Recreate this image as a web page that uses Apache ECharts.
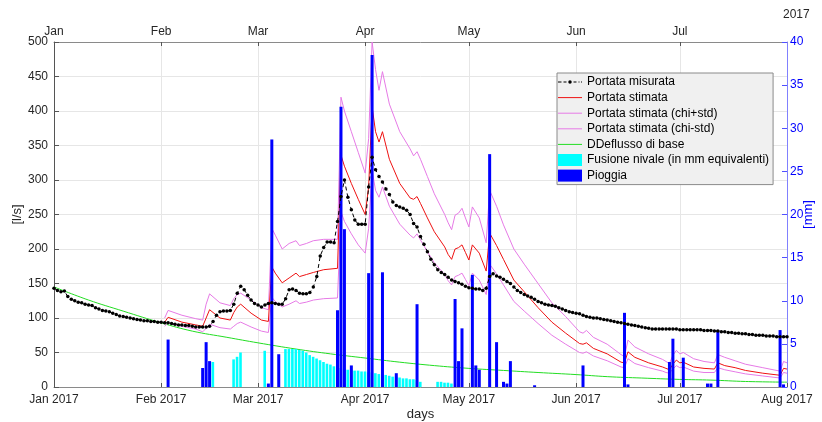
<!DOCTYPE html>
<html><head><meta charset="utf-8">
<script src="https://cdn.jsdelivr.net/npm/echarts@6/dist/echarts.min.js"></script>
<style>html,body{margin:0;padding:0;background:#fff;overflow:hidden}#c{width:822px;height:422px}</style>
</head><body><div id="c"></div>
<script>
// day index 0 = 1 Jan 2017
const monthTicks = [0, 31, 59, 90, 120, 151, 181, 212];
const bottomLabels = ['Jan 2017','Feb 2017','Mar 2017','Apr 2017','May 2017','Jun 2017','Jul 2017','Aug 2017'];
const topTicks = [0, 31, 59, 90, 120, 151, 181];
const topLabels = ['Jan','Feb','Mar','Apr','May','Jun','Jul'];

// Portata misurata, daily from day 0
const measured = [
143,140,138,139,131,127,125,123,122,120,
119,118,115,113,111,110,109,107,105,103,
102,101,100,99,98,97,96,96,95,95,
94,94,93,93,92,91,90,90,89,89,
88,87,87,87,87,88,95,104,109,110,
110,111,120,136,146,141,133,126,121,119,
116,119,121,122,121,120,120,128,141,142,
140,136,135,135,137,145,160,190,202,210,
210,209,240,276,300,275,257,242,236,236,
236,290,333,315,305,297,287,279,268,263,
261,259,256,250,237,232,218,207,196,185,
177,170,166,163,159,155,153,151,149,146,
144,143,142,142,140,143,160,164,161,159,
156,153,150,145,140,137,134,132,130,127,
124,122,120,119,118,117,115,113,111,109,
108,107,106,104,102,101,100,100,99,98,
97,96,95,94,93,92,91,90,89,88,
87,86,85,84,84,84,84,84,84,84,
84,83,83,83,83,83,83,83,82,82,
82,81,81,80,80,79,79,78,78,77,
77,76,76,75,75,75,74,74,74,73,
73,73,73];

// model output knots (day index)
const modelDays = [32,33,37,41,43,44,45,48,51,52,53,54,57,60,62,63,64,66,68,70,71,73,75,78,82,83,84,86,88,90,91,92,93,94,95,97,100,103,104,105,106,108,110,113,114,115,116,117,118,119,120,121,123,125,126,128,130,133,136,140,144,148,152,153,154,156,160,164,165,166,168,172,176,177,178,179,180,181,182,185,188,191,192,194,197,200,205,210,211,212];
const stimata = [94,101,94,90,88,100,112,100,97,108,116,120,107,97,95,174,165,151,158,165,160,163,166,170,172,336,320,295,272,250,290,406,370,355,370,330,295,274,272,276,266,245,225,203,192,185,200,202,206,195,184,206,194,168,223,205,185,155,138,115,94,78,63,62,64,56,48,36,35,51,43,35,29,27,25,33,39,35,36,29,27,26,35,31,28,24,20,17,27,26];
const stimataPlus = [100,111,104,99,97,120,135,122,118,128,134,136,126,115,112,230,220,200,208,212,205,208,212,214,214,420,400,370,340,310,360,500,460,430,457,410,370,345,335,341,330,305,280,250,238,228,249,252,259,245,232,261,245,209,285,262,235,200,178,150,122,102,80,78,82,72,62,47,44,68,58,48,40,37,34,46,53,48,50,41,37,35,47,43,38,33,28,23,37,35];
const stimataMinus = [88,93,88,84,80,85,91,86,84,88,92,94,87,81,79,130,124,116,120,125,121,123,126,128,129,254,240,222,206,194,230,314,285,275,290,262,236,220,216,222,213,196,180,163,154,148,160,162,165,156,147,165,155,134,178,164,148,124,110,92,75,62,50,49,51,45,38,29,28,41,34,28,23,21,20,26,31,28,29,23,21,21,28,25,22,19,16,13,21,20];

// Deflusso di base
const baseDays = [0,10,20,31,40,50,59,70,80,90,100,110,120,130,140,151,160,170,181,190,200,212];
const baseVals = [145,126,110,93,81,72,64,55,48,42,36,31,27,24,21,18,15,13,11,10,8,7];

// Fusione nivale (mm)
const snowDays = [46,52,53,54,61,67,68,69,70,71,72,73,74,75,76,77,78,79,80,81,82,83,84,85,86,87,88,89,90,91,92,93,94,95,96,97,98,99,100,101,102,103,104,105,106,111,112,113,114,115];
const snowMm = [2.9,3.2,3.5,4.0,4.2,4.4,4.4,4.4,4.4,4.3,4.2,4.0,3.7,3.5,3.3,3.1,2.9,2.7,2.6,2.4,2.3,2.2,2.1,2.0,2.0,1.9,1.9,1.8,1.8,1.7,1.7,1.6,1.5,1.5,1.4,1.3,1.2,1.2,1.1,1.0,1.0,0.9,0.9,0.8,0.6,0.6,0.6,0.5,0.5,0.4];

// Pioggia (mm)
const rainDays = [33,43,44,45,62,63,65,82,83,84,86,91,92,95,99,105,116,117,118,121,122,123,126,128,130,131,132,139,153,165,166,178,179,182,189,190,192,210,211];
const rainMm = [5.5,2.2,5.2,3.0,0.4,28.7,3.8,8.9,32.5,18.3,2.5,13.2,38.5,13.3,1.6,9.6,10.2,3.0,6.8,13.0,2.5,2.0,27.0,5.2,0.6,0.4,3.0,0.2,2.5,8.6,0.3,2.9,5.6,3.4,0.4,0.4,6.6,6.6,0.3];

const zip = (a, b) => a.map((v, i) => [v, b[i]]);
const FONT = 'Liberation Sans';
const chart = echarts.init(document.getElementById('c'), null, {renderer: 'canvas', width: 822, height: 422});
const axisGrey = '#8a8a8a';
const blue = '#0000ff';
const lineIcon = 'path://M0,0h24v1h-24z';
const dotLineIcon = 'path://M0,1.25h3.5v1h-3.5z M5.5,1.25h3v1h-3z M10.25,1.75a1.75,1.75 0 1,0 3.5,0a1.75,1.75 0 1,0 -3.5,0z M15.5,1.25h3v1h-3z M20.5,1.25h1v1h-1z M23,1.25h1v1h-1z';

chart.setOption({
  animation: false,
  textStyle: {fontFamily: FONT},
  grid: {left: 54, right: 35, top: 42, bottom: 35, containLabel: false, outerBoundsMode: 'none'},
  graphic: [
    {type: 'text', left: 783, top: 9, style: {text: '2017', fontFamily: FONT, fontSize: 12, fill: '#262626'}}
  ],
  legend: {
    orient: 'vertical', left: 557, top: 73,
    backgroundColor: '#f0f0f0', borderColor: '#8a8a8a', borderWidth: 1, borderRadius: 0,
    padding: [3, 4, 3, 1], itemWidth: 24, itemHeight: 12, itemGap: 3.6,
    textStyle: {fontFamily: FONT, fontSize: 12, color: '#000', lineHeight: 12},
    data: [
      {name: 'Portata misurata', icon: dotLineIcon},
      {name: 'Portata stimata', icon: lineIcon},
      {name: 'Portata stimata (chi+std)', icon: lineIcon},
      {name: 'Portata stimata (chi-std)', icon: lineIcon},
      {name: 'DDeflusso di base', icon: lineIcon},
      {name: 'Fusione nivale (in mm equivalenti)', icon: 'rect'},
      {name: 'Pioggia', icon: 'rect'}
    ]
  },
  xAxis: [
    {type: 'value', min: 0, max: 212, position: 'bottom',
     name: 'days', nameLocation: 'middle', nameGap: 21, nameMoveOverlap: false,
     nameTextStyle: {fontFamily: FONT, fontSize: 13, color: '#262626'},
     axisLine: {show: true, onZero: false, lineStyle: {color: axisGrey, width: 1}},
     axisTick: {show: true, inside: true, length: 4, customValues: monthTicks, lineStyle: {color: '#555'}},
     axisLabel: {customValues: monthTicks, formatter: v => bottomLabels[monthTicks.indexOf(v)], fontFamily: FONT, fontSize: 12, color: '#262626', margin: 7},
     splitLine: {show: true, lineStyle: {color: '#e6e6e6'}}
    },
    {type: 'value', min: 0, max: 212, position: 'top',
     axisLine: {show: true, onZero: false, lineStyle: {color: axisGrey, width: 1}},
     axisTick: {show: true, inside: true, length: 4, customValues: topTicks, lineStyle: {color: '#555'}},
     axisLabel: {customValues: topTicks, formatter: v => topLabels[topTicks.indexOf(v)], fontFamily: FONT, fontSize: 12, color: '#262626', margin: 4},
     splitLine: {show: false}
    }
  ],
  yAxis: [
    {type: 'value', min: 0, max: 500, interval: 50, position: 'left',
     name: '[l/s]', nameLocation: 'middle', nameGap: 30, nameRotate: 90, nameMoveOverlap: false,
     nameTextStyle: {fontFamily: FONT, fontSize: 13, color: '#262626'},
     axisLine: {show: true, onZero: false, lineStyle: {color: '#555', width: 1}},
     axisTick: {show: true, inside: true, length: 5, lineStyle: {color: '#555'}},
     axisLabel: {fontFamily: FONT, fontSize: 12, color: '#262626', margin: 6},
     splitLine: {show: true, lineStyle: {color: '#e6e6e6'}}
    },
    {type: 'value', min: 0, max: 40, interval: 5, position: 'right',
     name: '[mm]', nameLocation: 'middle', nameGap: 15, nameRotate: 90, nameMoveOverlap: false,
     nameTextStyle: {fontFamily: FONT, fontSize: 13, color: blue},
     axisLine: {show: true, onZero: false, lineStyle: {color: '#8080ff', width: 1}},
     axisTick: {show: true, inside: true, length: 5, lineStyle: {color: '#5050ff'}},
     axisLabel: {fontFamily: FONT, fontSize: 12, color: blue, margin: 3},
     splitLine: {show: false}
    }
  ],
  series: [
    {name: 'DDeflusso di base', type: 'line', data: zip(baseDays, baseVals), smooth: 0.4, symbol: 'none',
     lineStyle: {color: '#22dd22', width: 1}, itemStyle: {color: '#22dd22'}, z: 2},
    {name: 'Portata stimata (chi+std)', type: 'line', data: zip(modelDays, stimataPlus), symbol: 'none',
     lineStyle: {color: '#e67ae6', width: 1}, itemStyle: {color: '#e67ae6'}, z: 2},
    {name: 'Portata stimata (chi-std)', type: 'line', data: zip(modelDays, stimataMinus), symbol: 'none',
     lineStyle: {color: '#e67ae6', width: 1}, itemStyle: {color: '#e67ae6'}, z: 2},
    {name: 'Portata stimata', type: 'line', data: zip(modelDays, stimata), symbol: 'none',
     lineStyle: {color: '#ee1111', width: 1}, itemStyle: {color: '#ee1111'}, z: 2},
    {name: 'Fusione nivale (in mm equivalenti)', type: 'bar', xAxisIndex: 0, yAxisIndex: 1,
     data: zip(snowDays, snowMm), barWidth: 2.6, barGap: '-100%', itemStyle: {color: '#00ffff'}, z: 3},
    {name: 'Pioggia', type: 'bar', xAxisIndex: 0, yAxisIndex: 1,
     data: zip(rainDays, rainMm), barWidth: 3, barGap: '-100%', itemStyle: {color: '#0000ff'}, z: 4},
    {name: 'Portata misurata', type: 'line', data: measured.map((v, i) => [i, v]),
     symbol: 'circle', symbolSize: 3.5,
     lineStyle: {color: '#000', width: 1, type: [4, 3]}, itemStyle: {color: '#000'}, z: 5}
  ]
});
</script></body></html>
